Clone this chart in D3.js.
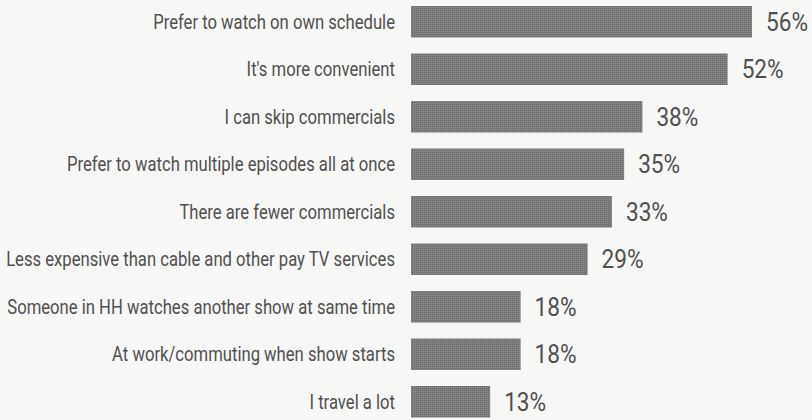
<!DOCTYPE html>
<html><head><meta charset="utf-8">
<script src="https://cdn.jsdelivr.net/npm/d3@7"></script>
<style>
html,body{margin:0;padding:0;background:#f7f7f5;}
svg{display:block;}
</style></head>
<body>
<svg id="chart" width="812" height="420"></svg>
<script>
const categories = [
  "Prefer to watch on own schedule",
  "It's more convenient",
  "I can skip commercials",
  "Prefer to watch multiple episodes all at once",
  "There are fewer commercials",
  "Less expensive than cable and other pay TV services",
  "Someone in HH watches another show at same time",
  "At work/commuting when show starts",
  "I travel a lot"
];
const values = [56, 52, 38, 35, 33, 29, 18, 18, 13];
const valueLabels = ["56%", "52%", "38%", "35%", "33%", "29%", "18%", "18%", "13%"];

const svg = d3.select("#chart");
const x = d3.scaleLinear().domain([0, 56]).range([411, 752]);
const y = d3.scaleBand().domain(categories).range([6, 417.5]).paddingInner(0.337).paddingOuter(0);

const defs = svg.append("defs");
const pat = defs.append("pattern").attr("id","tex").attr("width",2).attr("height",2).attr("patternUnits","userSpaceOnUse");
pat.append("rect").attr("width",2).attr("height",2).attr("fill","#7b7b7b");
pat.append("rect").attr("width",1).attr("height",1).attr("fill","#6c6c6c");
pat.append("rect").attr("x",1).attr("y",1).attr("width",1).attr("height",1).attr("fill","#8a8a8a");

const rows = svg.append("g").selectAll("g").data(categories).join("g");

rows.append("rect")
  .attr("x", x(0))
  .attr("y", d => y(d))
  .attr("width", (d,i) => x(values[i]) - x(0))
  .attr("height", y.bandwidth())
  .attr("fill", "url(#tex)");

const font = "Roboto, 'DejaVu Sans', sans-serif";

const cat = rows.append("text")
  .attr("text-anchor", "end")
  .attr("dy", "0.36em")
  .attr("font-family", font)
  .attr("font-size", 20)
  .attr("fill", "#505050")
  .text(d => d);
// condense horizontally so first label spans ~242px like the reference
const w0 = cat.nodes()[0].getComputedTextLength();
const sCat = 242 / w0;
cat.attr("transform", d => `translate(395,${y(d) + y.bandwidth()/2}) scale(${sCat},1)`);

const val = rows.append("text")
  .attr("dy", "0.36em")
  .attr("font-family", font)
  .attr("font-size", 25)
  .attr("fill", "#505050")
  .text((d,i) => valueLabels[i]);
const v0 = val.nodes()[0].getComputedTextLength();
const sVal = 42 / v0;
val.attr("transform", (d,i) => `translate(${x(values[i]) + 14},${y(d) + y.bandwidth()/2}) scale(${sVal},1)`);
</script>
</body></html>
